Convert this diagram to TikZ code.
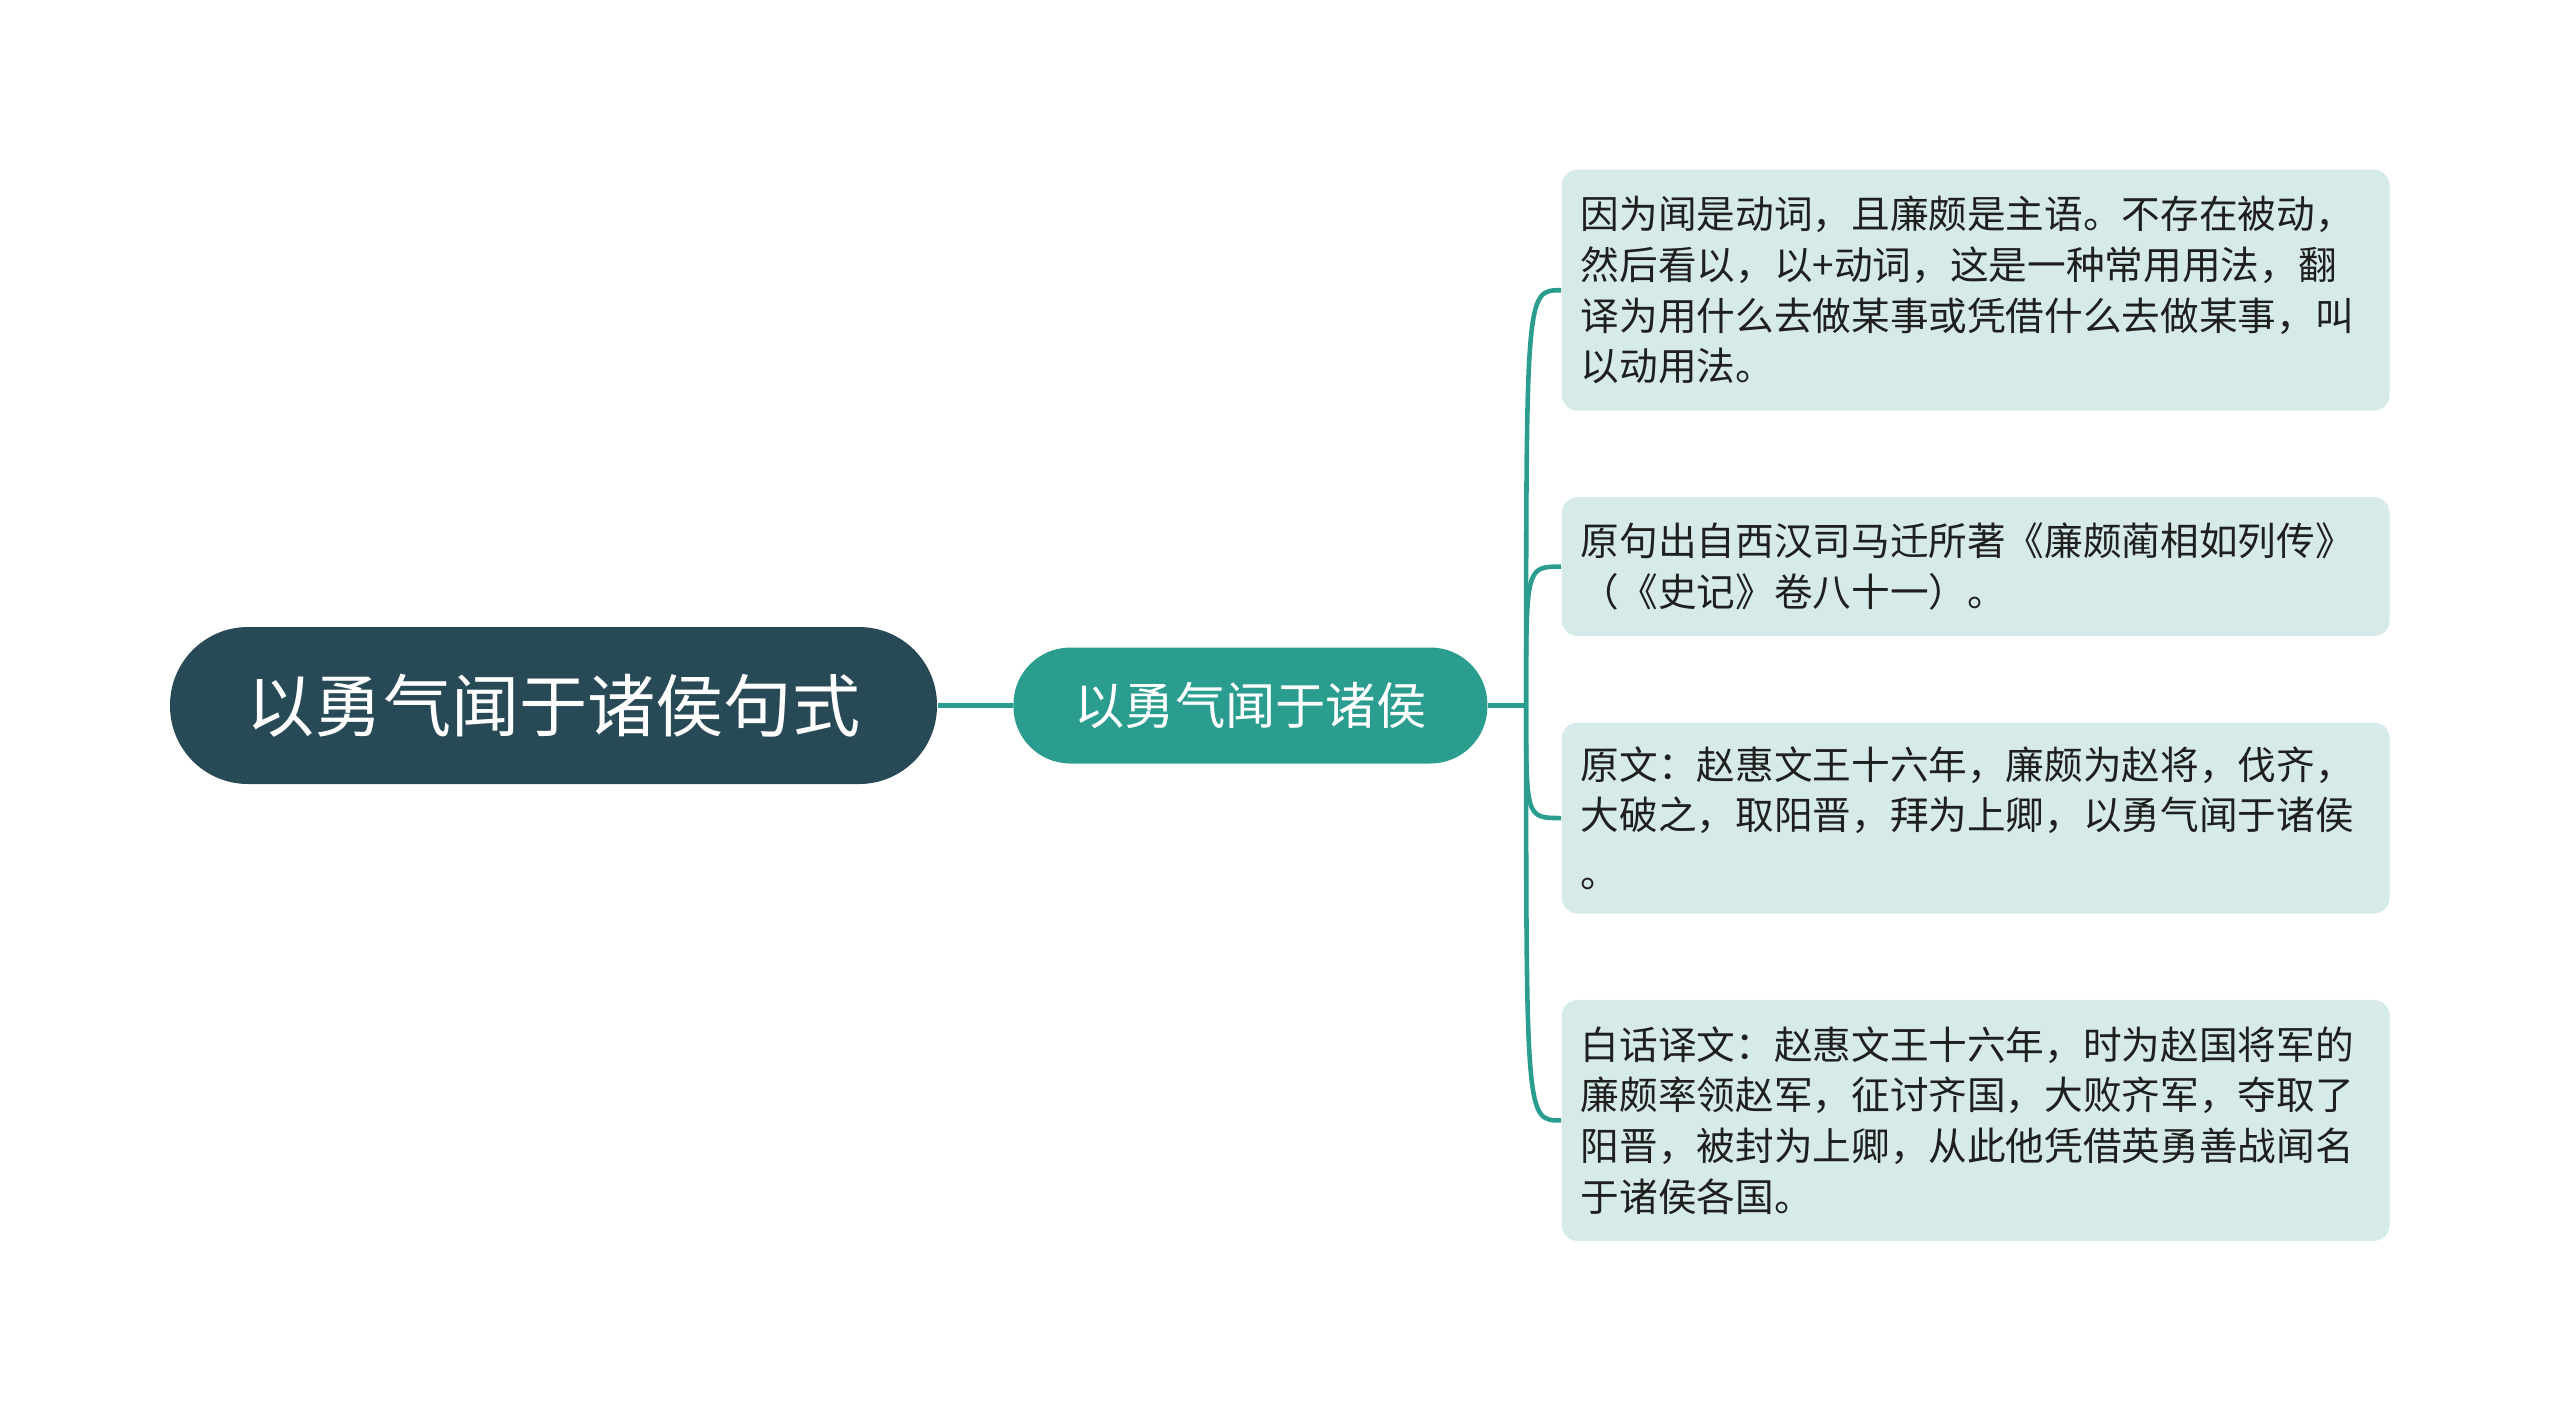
\documentclass[tikz,border=0pt]{standalone}
\usepackage{fontspec}
\setmainfont{Noto Sans CJK SC}
\usepackage{xcolor}
\usetikzlibrary{positioning}
\definecolor{RootSlate}{HTML}{284A56}
\definecolor{TopicTeal}{HTML}{2A9D8F}
\definecolor{LeafMint}{HTML}{D6EBE9}
\definecolor{LeafInk}{HTML}{1F1F1F}
\newcommand{\leaftext}{\fontsize{11pt}{14.4pt}\selectfont}

\begin{document}
\begin{tikzpicture}[every node/.style={align=center},
    rootbox/.style={fill=RootSlate, text=white, rounded corners=0.78cm, minimum width=7.67cm, minimum height=1.57cm, font=\fontsize{19.4pt}{24pt}\selectfont},
    topicbox/.style={fill=TopicTeal, text=white, rounded corners=0.57cm, minimum width=4.74cm, minimum height=1.16cm, font=\fontsize{14.3pt}{17pt}\selectfont},
    leafbox/.style={fill=LeafMint, text=LeafInk, rounded corners=0.16cm, text width=7.9cm, inner xsep=0.19cm, inner ysep=0.1cm, align=left, font=\leaftext},
    link/.style={TopicTeal, line width=1.3pt}]
      \useasboundingbox (0,0) rectangle (25.6,-14.13);
      % Nodes
      \node[rootbox] (root) at (5.535,-7.055) {以勇气闻于诸侯句式};
      \node[topicbox, right=0.75cm of root] (topic) {以勇气闻于诸侯};
      \node[leafbox, minimum height=2.41cm, anchor=north west] (why) at (15.61,-1.69) {因为闻是动词，且廉颇是主语。不存在被动，\\然后看以，以+动词，这是一种常用用法，翻\\译为用什么去做某事或凭借什么去做某事，叫\\以动用法。};
      \node[leafbox, minimum height=1.39cm, below=0.85cm of why] (source) {原句出自西汉司马迁所著《廉颇蔺相如列传》\\（《史记》卷八十一）。};
      \node[leafbox, minimum height=1.91cm, below=0.85cm of source] (original) {原文：赵惠文王十六年，廉颇为赵将，伐齐，\\大破之，取阳晋，拜为上卿，以勇气闻于诸侯\\[2pt]。};
      \node[leafbox, minimum height=2.41cm, below=0.85cm of original] (plain) {白话译文：赵惠文王十六年，时为赵国将军的\\廉颇率领赵军，征讨齐国，大败齐军，夺取了\\阳晋，被封为上卿，从此他凭借英勇善战闻名\\于诸侯各国。};
      \coordinate (fork) at ([xshift=0.38cm]topic.east);
      % Connectors
      \draw[link] (root) -- (topic);
      \draw[link] (topic) -- (fork);
      \foreach \leaf in {why,source,original,plain}
        \draw[link] (fork) .. controls (fork |- \leaf.west) .. (\leaf.west);
\end{tikzpicture}
\end{document}
